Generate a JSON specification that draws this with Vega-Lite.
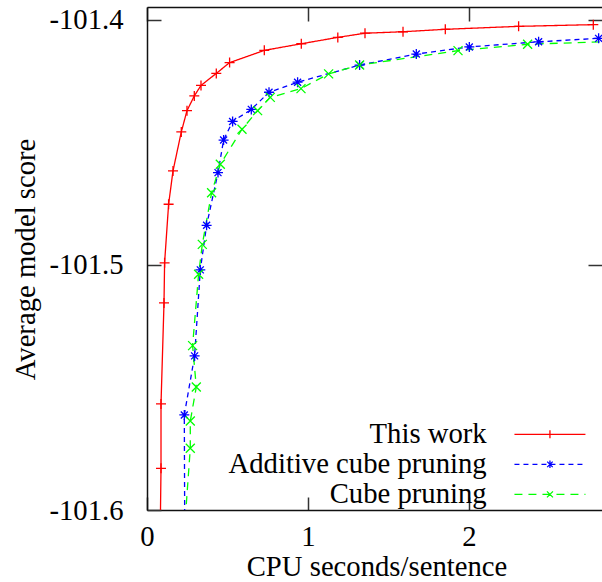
{
  "$schema": "https://vega.github.io/schema/vega-lite/v6.json",
  "width": 455,
  "height": 503,
  "autosize": {"type": "none"},
  "padding": {"left": 147, "top": 7, "right": 0, "bottom": 72},
  "background": "white",
  "config": {"view": {"stroke": null}, "font": "Liberation Serif"},
  "data": {"values": [
    {"s": "This work", "cpu": 0.080, "score": -101.620},
    {"s": "This work", "cpu": 0.087, "score": -101.5830},
    {"s": "This work", "cpu": 0.087, "score": -101.5567},
    {"s": "This work", "cpu": 0.1056, "score": -101.5155},
    {"s": "This work", "cpu": 0.1093, "score": -101.4991},
    {"s": "This work", "cpu": 0.1342, "score": -101.4752},
    {"s": "This work", "cpu": 0.1615, "score": -101.4616},
    {"s": "This work", "cpu": 0.2130, "score": -101.4457},
    {"s": "This work", "cpu": 0.2484, "score": -101.4370},
    {"s": "This work", "cpu": 0.2938, "score": -101.4310},
    {"s": "This work", "cpu": 0.3354, "score": -101.4267},
    {"s": "This work", "cpu": 0.4304, "score": -101.4218},
    {"s": "This work", "cpu": 0.5130, "score": -101.4174},
    {"s": "This work", "cpu": 0.7286, "score": -101.4124},
    {"s": "This work", "cpu": 0.9584, "score": -101.4097},
    {"s": "This work", "cpu": 1.1851, "score": -101.4071},
    {"s": "This work", "cpu": 1.3540, "score": -101.4054},
    {"s": "This work", "cpu": 1.5901, "score": -101.4048},
    {"s": "This work", "cpu": 1.8528, "score": -101.4038},
    {"s": "This work", "cpu": 2.3081, "score": -101.4026},
    {"s": "This work", "cpu": 2.7720, "score": -101.4019},
    {"s": "Additive cube pruning", "cpu": 0.2350, "score": -101.620},
    {"s": "Additive cube pruning", "cpu": 0.2317, "score": -101.5612},
    {"s": "Additive cube pruning", "cpu": 0.2957, "score": -101.5371},
    {"s": "Additive cube pruning", "cpu": 0.3311, "score": -101.5020},
    {"s": "Additive cube pruning", "cpu": 0.3702, "score": -101.4838},
    {"s": "Additive cube pruning", "cpu": 0.4410, "score": -101.4623},
    {"s": "Additive cube pruning", "cpu": 0.4758, "score": -101.4490},
    {"s": "Additive cube pruning", "cpu": 0.5317, "score": -101.4414},
    {"s": "Additive cube pruning", "cpu": 0.6478, "score": -101.4365},
    {"s": "Additive cube pruning", "cpu": 0.7578, "score": -101.4295},
    {"s": "Additive cube pruning", "cpu": 0.9354, "score": -101.4254},
    {"s": "Additive cube pruning", "cpu": 1.3205, "score": -101.4184},
    {"s": "Additive cube pruning", "cpu": 1.6727, "score": -101.4139},
    {"s": "Additive cube pruning", "cpu": 2.0019, "score": -101.4110},
    {"s": "Additive cube pruning", "cpu": 2.4323, "score": -101.4089},
    {"s": "Additive cube pruning", "cpu": 2.8050, "score": -101.4075},
    {"s": "Cube pruning", "cpu": 0.2193, "score": -101.6204},
    {"s": "Cube pruning", "cpu": 0.2689, "score": -101.5748},
    {"s": "Cube pruning", "cpu": 0.2689, "score": -101.5637},
    {"s": "Cube pruning", "cpu": 0.3062, "score": -101.5498},
    {"s": "Cube pruning", "cpu": 0.2832, "score": -101.5329},
    {"s": "Cube pruning", "cpu": 0.3205, "score": -101.5038},
    {"s": "Cube pruning", "cpu": 0.3435, "score": -101.4916},
    {"s": "Cube pruning", "cpu": 0.4012, "score": -101.4705},
    {"s": "Cube pruning", "cpu": 0.4553, "score": -101.4589},
    {"s": "Cube pruning", "cpu": 0.5901, "score": -101.4446},
    {"s": "Cube pruning", "cpu": 0.6870, "score": -101.4370},
    {"s": "Cube pruning", "cpu": 0.7658, "score": -101.4316},
    {"s": "Cube pruning", "cpu": 0.9565, "score": -101.4280},
    {"s": "Cube pruning", "cpu": 1.1280, "score": -101.4220},
    {"s": "Cube pruning", "cpu": 1.3205, "score": -101.4184},
    {"s": "Cube pruning", "cpu": 1.9317, "score": -101.4125},
    {"s": "Cube pruning", "cpu": 2.3640, "score": -101.4099},
    {"s": "Cube pruning", "cpu": 2.8780, "score": -101.4088}
  ]},
  "resolve": {"axis": {"x": "independent", "y": "independent"}},
  "layer": [
    {
      "mark": {"type": "line", "clip": true, "strokeWidth": 1.3},
      "encoding": {
        "x": {"field": "cpu", "type": "quantitative",
          "scale": {"domain": [0, 2.826], "nice": false, "zero": false},
          "axis": {"orient": "bottom", "values": [0, 1, 2], "grid": false, "title": "CPU seconds/sentence",
            "domainColor": "#111", "domainWidth": 1.5, "tickColor": "#333", "tickWidth": 1.5, "tickSize": -13,
            "labelFont": "Liberation Serif", "labelFontSize": 28.7, "labelColor": "black", "labelPadding": 25,
            "labelFlush": false, "labelOverlap": false,
            "titleFont": "Liberation Serif", "titleFontSize": 28.7, "titleFontWeight": "normal", "titleColor": "black",
            "titleX": 229.5, "titleY": 56.7, "titleBaseline": "middle", "titleAlign": "center"}},
        "y": {"field": "score", "type": "quantitative",
          "scale": {"domain": [-101.6, -101.3947], "nice": false, "zero": false},
          "axis": {"orient": "left", "values": [-101.6, -101.5, -101.4], "labelExpr": "'-' + format(abs(datum.value), '.1f')", "grid": false,
            "title": "Average model score",
            "domainColor": "#111", "domainWidth": 1.5, "tickColor": "#333", "tickWidth": 1.5, "tickSize": -14,
            "labelFont": "Liberation Serif", "labelFontSize": 28.7, "labelColor": "black", "labelPadding": 38,
            "labelFlush": false, "labelOverlap": false,
            "titleFont": "Liberation Serif", "titleFontSize": 28.7, "titleFontWeight": "normal", "titleColor": "black",
            "titleX": -122, "titleY": 252, "titleAngle": -90, "titleBaseline": "middle", "titleAlign": "center"}},
        "color": {"field": "s", "type": "nominal",
          "scale": {"domain": ["This work", "Additive cube pruning", "Cube pruning"], "range": ["#ff0000", "#0000ff", "#00ff00"]},
          "legend": {"orient": "none", "legendX": 388.6, "legendY": 413, "title": null, "padding": 0,
            "labelFont": "Liberation Serif", "labelFontSize": 28.7, "labelColor": "black", "labelAlign": "right",
            "labelOffset": -77.6, "labelLimit": 600, "symbolType": "M-7.1,0H7.1", "symbolSize": 100,
            "symbolStrokeWidth": 1.3, "rowPadding": 0,
            "encode": {
              "symbols": {"update": {
              "shape": {"signal": "datum.value === 'This work' ? 'M-7.1,0H7.1M0,0V0.8M0,0V-0.8' : datum.value === 'Additive cube pruning' ? 'M-7.1,0H7.1M0,0V0.75M0,0V-0.75M0,0L0.55,0.55M0,0L-0.55,-0.55M0,0L0.55,-0.55M0,0L-0.55,0.55' : 'M-7.1,0H7.1M0,0L0.6,0.6M0,0L-0.6,-0.6M0,0L0.6,-0.6M0,0L-0.6,0.6'"},
              "strokeDash": {"signal": "datum.value === 'This work' ? [1,0] : datum.value === 'Additive cube pruning' ? [5,4] : [8,6]"},
              "fill": {"value": "transparent"}
            }}}}},
        "strokeDash": {"field": "s", "type": "nominal",
          "scale": {"domain": ["This work", "Additive cube pruning", "Cube pruning"], "range": [[1, 0], [5, 4], [8, 6]]},
          "legend": null},
        "order": {"field": "score", "type": "quantitative"}
      }
    },
    {
      "transform": [{"filter": "datum.s === 'This work'"}],
      "mark": {"type": "point", "clip": true, "filled": false, "strokeWidth": 1.3, "size": 100, "opacity": 1, "shape": "M-1,0H1M0,-1V1"},
      "encoding": {
        "x": {"field": "cpu", "type": "quantitative",
          "scale": {"domain": [0, 2.826], "nice": false, "zero": false},
          "axis": {"orient": "top", "values": [0, 1, 2], "grid": false, "title": null, "labels": false,
            "domainColor": "#111", "domainWidth": 1.5, "tickColor": "#333", "tickWidth": 1.5, "tickSize": -14}},
        "y": {"field": "score", "type": "quantitative",
          "scale": {"domain": [-101.6, -101.3947], "nice": false, "zero": false},
          "axis": {"orient": "right", "values": [-101.5, -101.4], "grid": false, "title": null, "labels": false,
            "domain": false, "tickColor": "#333", "tickWidth": 1.5, "tickSize": -14}},
        "color": {"field": "s", "type": "nominal",
          "scale": {"domain": ["This work", "Additive cube pruning", "Cube pruning"], "range": ["#ff0000", "#0000ff", "#00ff00"]}}
      }
    },
    {
      "transform": [{"filter": "datum.s === 'Additive cube pruning'"}],
      "mark": {"type": "point", "clip": true, "filled": false, "strokeWidth": 1.3, "size": 100, "opacity": 1, "shape": "M-1,0H1M0,-1V1M-0.7,-0.7L0.7,0.7M-0.7,0.7L0.7,-0.7"},
      "encoding": {
        "x": {"field": "cpu", "type": "quantitative", "axis": null},
        "y": {"field": "score", "type": "quantitative", "axis": null},
        "color": {"field": "s", "type": "nominal"}
      }
    },
    {
      "transform": [{"filter": "datum.s === 'Cube pruning'"}],
      "mark": {"type": "point", "clip": true, "filled": false, "strokeWidth": 1.3, "size": 100, "opacity": 1, "shape": "M-0.9,-0.9L0.9,0.9M-0.9,0.9L0.9,-0.9"},
      "encoding": {
        "x": {"field": "cpu", "type": "quantitative", "axis": null},
        "y": {"field": "score", "type": "quantitative", "axis": null},
        "color": {"field": "s", "type": "nominal"}
      }
    }
  ]
}
